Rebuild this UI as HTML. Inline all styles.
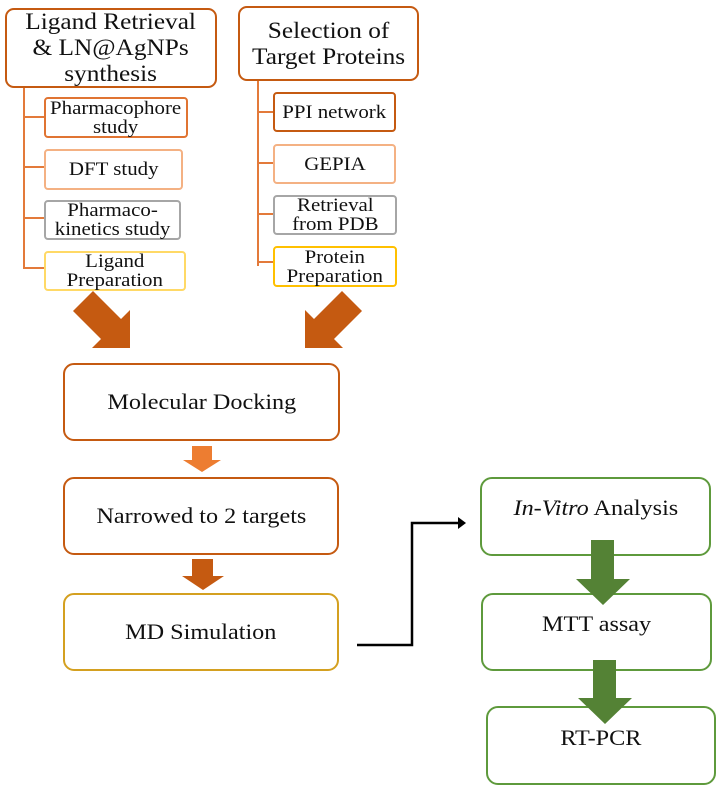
<!DOCTYPE html>
<html><head><meta charset="utf-8"><style>
body{margin:0;width:720px;height:792px;background:#fff;position:relative;overflow:hidden;font-family:"Liberation Serif",serif;color:#111}
.b{position:absolute;box-sizing:border-box;border:2px solid #c55a11;border-radius:9px;display:flex;align-items:center;justify-content:center;text-align:center;line-height:1.05;background:#fff}
.b span{display:inline-block;transform:scaleX(1.1)}
.s{border-radius:4px;font-size:19px;line-height:1.0}
.m{font-size:22px;border-radius:11px}
.g{border-color:#5e9a3c;font-size:22px;border-radius:12px}
.t{font-size:23px;line-height:1.12}
</style></head><body>
<svg width="720" height="792" style="position:absolute;left:0;top:0">
<g stroke="#e37a3a" stroke-width="2" fill="none">
<path d="M24 88V269M24 117H45M24 167H45M24 218H45M24 268H45"/>
<path d="M258 81V266M258 112H273M258 163H273M258 214H273M258 262H273"/>
</g>
<polygon fill="#c55a11" points="130,348 92,348 101,339 73,311 93,291 121,319 130,310"/>
<polygon fill="#c55a11" points="305,348 343,348 334,339 362,311 342,291 314,319 305,310"/>
<polygon fill="#ed7d31" points="192,446 212,446 212,460 221,460 202,472 183,460 192,460"/>
<polygon fill="#c55a11" points="192,559 213,559 213,576 224,576 203,590 182,576 192,576"/>
<path d="M357 645H412V523H460" stroke="#000" stroke-width="2.5" fill="none"/>
<polygon points="458,517 466,523 458,529"/>
</svg>
<div class="b t" style="left:5px;top:8px;width:212px;height:80px"><span>Ligand Retrieval<br>&amp; LN@AgNPs<br>synthesis</span></div>
<div class="b t" style="left:238px;top:6px;width:181px;height:75px"><span>Selection of<br>Target Proteins</span></div>
<div class="b s" style="left:44px;top:97px;width:144px;height:41px;border-color:#e07432"><span>Pharmacophore<br>study</span></div>
<div class="b s" style="left:44px;top:149px;width:139px;height:41px;border-color:#f4b183"><span>DFT study</span></div>
<div class="b s" style="left:44px;top:200px;width:137px;height:40px;border-color:#a6a6a6"><span>Pharmaco-<br>kinetics study</span></div>
<div class="b s" style="left:44px;top:251px;width:142px;height:40px;border-color:#ffd966"><span>Ligand<br>Preparation</span></div>
<div class="b s" style="left:273px;top:92px;width:123px;height:40px;border-color:#c55a11"><span>PPI network</span></div>
<div class="b s" style="left:273px;top:144px;width:123px;height:40px;border-color:#f4b183"><span>GEPIA</span></div>
<div class="b s" style="left:273px;top:195px;width:124px;height:40px;border-color:#a6a6a6"><span>Retrieval<br>from PDB</span></div>
<div class="b s" style="left:273px;top:246px;width:124px;height:41px;border-color:#ffc000"><span>Protein<br>Preparation</span></div>
<div class="b m" style="left:63px;top:363px;width:277px;height:78px"><span>Molecular Docking</span></div>
<div class="b m" style="left:63px;top:477px;width:276px;height:78px"><span>Narrowed to 2 targets</span></div>
<div class="b m" style="left:63px;top:593px;width:276px;height:78px;border-color:#d4a020"><span>MD Simulation</span></div>
<div class="b g" style="left:480px;top:477px;width:231px;height:79px;align-items:flex-start;padding-top:17px"><span><i>In-Vitro</i> Analysis</span></div>
<div class="b g" style="left:481px;top:593px;width:231px;height:78px;align-items:flex-start;padding-top:17px"><span>MTT assay</span></div>
<div class="b g" style="left:486px;top:706px;width:230px;height:79px;align-items:flex-start;padding-top:18px"><span>RT-PCR</span></div>
<svg width="720" height="792" style="position:absolute;left:0;top:0">
<polygon fill="#548235" points="591,540 614,540 614,579 630,579 603,605 576,579 591,579"/>
<polygon fill="#548235" points="593,660 616,660 616,698 632,698 605,724 578,698 593,698"/>
</svg>
</body></html>
